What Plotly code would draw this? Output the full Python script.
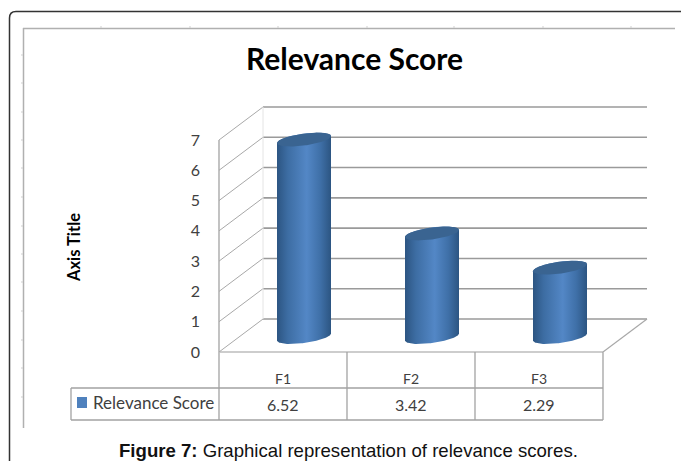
import numpy as np
import plotly.graph_objects as go

# ---- data ----
categories = ["F1", "F2", "F3"]
scores = [6.52, 3.42, 2.29]
y_ticks = [0, 1, 2, 3, 4, 5, 6, 7]
series_name = "Relevance Score"
chart_title = "Relevance Score"
axis_title = "Axis Title"

# ---- layout constants (pixels) ----
W, H = 681, 461
X0, Y0 = 219, 352            # front origin of the 3-D box
CAT_W = 128.0
UNIT_H = 212.0 / 7
DEPTH_X, DEPTH_Y = 44, 33
PLOT_R, PLOT_T = 649, 100
dx, dy = DEPTH_X / CAT_W, DEPTH_Y / UNIT_H
GRID = "#a2a2a2"
DIAG = "#a8a8a8"
TEXT = "#404040"
FONT = "Lato"


def px(x):
    return (x - X0) / (PLOT_R - X0)


def py(y):
    return (Y0 - y) / (Y0 - PLOT_T)


def ppath(x0, y0, x1, y1, color=GRID, width=1.3):
    return dict(type="line", xref="paper", yref="paper", x0=px(x0), y0=py(y0), x1=px(x1), y1=py(y1),
                line=dict(color=color, width=width), layer="below")


def label(text, x, y, font, xanchor="center", **kw):
    return dict(text=text, x=px(x), y=py(y), xref="paper", yref="paper", showarrow=False,
                xanchor=xanchor, yanchor="middle", font=font, **kw)


fig = go.Figure()

# cylinders
A = 27 / CAT_W
B = 6 / UNIT_H
S = 3.5 / UNIT_H
t = np.linspace(0, 2 * np.pi, 121)
body_scale = [[0, "#2c5582"], [0.2, "#3d6da3"], [0.55, "#5387c6"], [0.8, "#3f70a8"], [1, "#2c5582"]]
for i, v in enumerate(scores):
    cx = i + 0.5 + dx / 2 - 1 / CAT_W
    base = dy / 2 - 0.05
    top = base + v
    ta = np.linspace(0, np.pi, 61)          # front arc of base, right to left
    xb = cx + A * np.cos(ta)
    yb = base - B * np.sin(ta) + S * np.cos(ta)
    tb = np.linspace(np.pi, 2 * np.pi, 61)  # rear arc of top, left to right
    xt = cx + A * np.cos(tb)
    yt = top - B * np.sin(tb) + S * np.cos(tb)
    fig.add_trace(go.Scatter(
        x=np.r_[xb, xt, xb[0]], y=np.r_[yb, yt, yb[0]], mode="lines", fill="toself",
        line=dict(width=0, color="#3d6da3"),
        fillgradient=dict(type="horizontal", colorscale=body_scale),
        showlegend=False, hoverinfo="skip"))
    fig.add_trace(go.Scatter(
        x=cx + A * np.cos(t), y=top + B * np.sin(t) + S * np.cos(t), mode="lines", fill="toself",
        line=dict(width=0, color="#3a6491"), fillcolor="#3a6491",
        showlegend=False, hoverinfo="skip"))

shapes = []
# gridlines: back wall and side wall, from tick values
for v in y_ticks:
    shapes.append(dict(type="line", xref="x", yref="y", x0=0, y0=v, x1=dx, y1=v + dy,
                       line=dict(color=DIAG, width=1), layer="below"))
    shapes.append(dict(type="line", xref="x", yref="y", x0=dx, y0=v + dy, x1=3 + dx, y1=v + dy,
                       line=dict(color="#9a9a9a", width=1.6), layer="below"))
# floor right edge and back wall left edge
shapes.append(dict(type="line", xref="x", yref="y", x0=3, y0=0, x1=3 + dx, y1=dy,
                   line=dict(color=DIAG, width=1.2), layer="below"))
shapes.append(dict(type="line", xref="x", yref="y", x0=dx, y0=dy, x1=dx, y1=7 + dy,
                   line=dict(color="#e4e4e4", width=1), layer="below"))

# front vertical, floor edge, data table
T1, T2 = 388, 420
shapes.append(ppath(X0, 140, X0, T2))
shapes.append(ppath(X0, Y0, X0 + 3 * CAT_W, Y0, "#bcbcbc", 1.6))
for k in range(1, 4):
    shapes.append(ppath(X0 + k * CAT_W, Y0, X0 + k * CAT_W, T2))
shapes.append(ppath(71, T1, X0 + 3 * CAT_W, T1))
shapes.append(ppath(71, T2, X0 + 3 * CAT_W, T2))
shapes.append(ppath(71, T1, 71, T2))

# legend swatch
shapes.append(dict(type="rect", xref="paper", yref="paper", x0=px(77), x1=px(87), y0=py(408), y1=py(397),
                   fillcolor="#4f81bd", line=dict(width=0), layer="below"))

# outer frames
shapes.append(dict(type="path", xref="paper", yref="paper",
                   path=f"M {px(9.5)} {py(461)} L {px(9.5)} {py(18)} Q {px(9.5)} {py(11.5)} {px(16)} {py(11.5)} L {px(681)} {py(11.5)}",
                   line=dict(color="#333333", width=1.5), layer="below"))
shapes.append(ppath(23.5, 428, 23.5, 28, "#b0b0b0", 1.5))
shapes.append(ppath(23, 28.5, 675, 28.5, "#b0b0b0", 1.5))
for yy in [55, 83, 112, 140, 168, 197, 226, 254, 282, 311, 340, 368, 397]:
    shapes.append(ppath(21, yy, 23, yy, "#cfcfcf", 1))
for xx in [101, 190, 278, 367, 454, 543, 631]:
    shapes.append(ppath(xx, 26, xx, 28, "#cfcfcf", 1))

annotations = [
    label(chart_title, 354.5, 58, dict(family=FONT, size=30, color="#000000", weight="bold")),
    label("<b>Figure 7:</b> Graphical representation of relevance scores.", 348, 450,
          dict(family="Liberation Sans", size=18.6, color="#111111")),
    label(series_name, 91, 402, dict(family=FONT, size=17, color=TEXT), xanchor="left"),
    label(axis_title, 74, 248, dict(family=FONT, size=16.5, color="#000000", weight="bold"), textangle=-90),
]
for i, v in enumerate(scores):
    annotations.append(label(f"{v:.2f}", X0 + (i + 0.5) * CAT_W, 404, dict(family=FONT, size=16, color=TEXT)))

fig.update_layout(
    width=W, height=H, margin=dict(l=X0, r=W - PLOT_R, t=PLOT_T, b=H - Y0),
    paper_bgcolor="white", plot_bgcolor="rgba(0,0,0,0)", showlegend=False,
    shapes=shapes, annotations=annotations,
    xaxis=dict(range=[0, (PLOT_R - X0) / CAT_W], tickmode="array",
               tickvals=[i + 0.5 for i in range(len(categories))], ticktext=categories,
               showgrid=False, zeroline=False, showline=False, ticks="", ticklabelstandoff=17,
               tickfont=dict(family=FONT, size=14, color=TEXT)),
    yaxis=dict(range=[0, (Y0 - PLOT_T) / UNIT_H], tickmode="array", tickvals=y_ticks,
               showgrid=False, zeroline=False, showline=False, ticks="", ticklabelstandoff=18,
               tickfont=dict(family=FONT, size=16, color=TEXT)),
)

fig.write_html("out.html", post_script="document.body.style.margin='0';", config=dict(displayModeBar=False))
